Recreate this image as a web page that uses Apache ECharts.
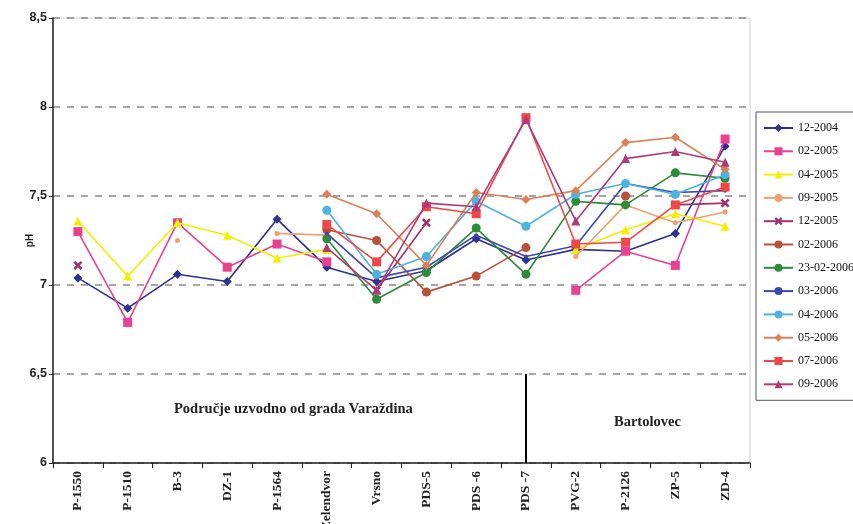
<!DOCTYPE html>
<html>
<head>
<meta charset="utf-8">
<script src="https://cdn.jsdelivr.net/npm/echarts@6/dist/echarts.min.js"></script>
<style>html,body{margin:0;padding:0;background:#fff}#c{width:853px;height:524px}</style>
</head>
<body>
<div id="c"></div>
<script>
var categories = ['P-1550','P-1510','B-3','DZ-1','P-1564','Zelendvor','Vrsno','PDS-5','PDS -6','PDS -7','PVG-2','P-2126','ZP-5','ZD-4'];
var yTicks = [6, 6.5, 7, 7.5, 8, 8.5];
var s1204  = [7.04, 6.87, 7.06, 7.02, 7.37, 7.10, 7.02, 7.08, 7.26, 7.14, 7.20, 7.19, 7.29, 7.78];
var s0205  = [7.30, 6.79, 7.35, 7.10, 7.23, 7.13, null, null, null, null, 6.97, 7.19, 7.11, 7.82];
var s0405  = [7.36, 7.05, 7.35, 7.28, 7.15, 7.20, null, null, null, null, 7.20, 7.31, 7.40, 7.33];
var s0905  = [null, null, 7.25, null, 7.29, 7.28, null, null, null, null, 7.16, 7.45, 7.35, 7.41];
var s1205  = [7.11, null, null, null, null, null, 6.97, 7.35, null, null, null, null, 7.45, 7.46];
var s0206  = [null, null, null, null, null, 7.31, 7.25, 6.96, 7.05, 7.21, null, 7.50, null, null];
var s230206= [null, null, null, null, null, 7.26, 6.92, 7.07, 7.32, 7.06, 7.47, 7.45, 7.63, 7.60];
var s0306  = [null, null, null, null, null, 7.29, 7.04, 7.10, 7.28, 7.16, 7.22, 7.57, 7.52, 7.53];
var s0406  = [null, null, null, null, null, 7.42, 7.06, 7.16, 7.47, 7.33, 7.51, 7.57, 7.51, 7.62];
var s0506  = [null, null, null, null, null, 7.51, 7.40, 7.11, 7.52, 7.48, 7.53, 7.80, 7.83, 7.65];
var s0706  = [null, null, null, null, null, 7.34, 7.13, 7.44, 7.40, 7.94, 7.23, 7.24, 7.45, 7.55];
var s0906  = [null, null, null, null, null, 7.21, 6.97, 7.46, 7.44, 7.93, 7.36, 7.71, 7.75, 7.69];
var seriesNames = ['12-2004','02-2005','04-2005','09-2005','12-2005','02-2006','23-02-2006','03-2006','04-2006','05-2006','07-2006','09-2006'];

var X = 'path://M2,0 L5,3 L8,0 L10,2 L7,5 L10,8 L8,10 L5,7 L2,10 L0,8 L3,5 L0,2 Z';
var defs = [
  [s1204,  '#2e3192', 'diamond', 9],
  [s0205,  '#e8418f', 'rect', 9],
  [s0405,  '#f2f000', 'triangle', 9],
  [s0905,  '#eea070', 'circle', 5],
  [s1205,  '#a0306e', X, 9],
  [s0206,  '#b9503c', 'circle', 9],
  [s230206,'#2e8b3a', 'circle', 9],
  [s0306,  '#3a48b0', 'circle', 4],
  [s0406,  '#4db3e0', 'circle', 9],
  [s0506,  '#d9825a', 'diamond', 9],
  [s0706,  '#f04848', 'rect', 9],
  [s0906,  '#b03a78', 'triangle', 9]
];
var series = defs.map(function(d, i){
  return {
    name: seriesNames[i], type: 'line', data: d[0], symbol: d[2], symbolSize: d[3],
    showAllSymbol: true, connectNulls: false,
    lineStyle: {color: d[1], width: 1.6}, itemStyle: {color: d[1]},
    emphasis: {disabled: true}, z: 3 + i
  };
});
series[0].markLine = {
  silent: true, symbol: 'none', label: {show: false},
  lineStyle: {color: '#000', width: 2, type: 'solid'},
  data: [[{coord: ['PDS -7', 6.5]}, {coord: ['PDS -7', 6]}]]
};

var chart = echarts.init(document.getElementById('c'));
chart.setOption({
  animation: false,
  backgroundColor: '#fff',
  grid: {left: 53, right: 103, top: 18, bottom: 61, show: true, borderColor: '#d0d0d0', borderWidth: 1,
         containLabel: false, outerBoundsMode: 'none'},
  legend: {
    orient: 'vertical', left: 756, top: 112, padding: [10, 6, 10, 7],
    itemWidth: 29, itemHeight: 10, itemGap: 11.3,
    borderColor: '#555', borderWidth: 1, backgroundColor: '#fff',
    textStyle: {fontFamily: 'Liberation Serif', fontSize: 12, color: '#111', lineHeight: 12},
    data: seriesNames
  },
  xAxis: {
    type: 'category', data: categories, boundaryGap: true,
    axisLine: {lineStyle: {color: '#222', width: 1.5}},
    axisTick: {show: true, interval: 0, length: 5, lineStyle: {color: '#222'}},
    axisLabel: {interval: 0, rotate: 90, fontFamily: 'Liberation Serif', fontWeight: 'bold', fontSize: 13.5, color: '#222', margin: 8, hideOverlap: false}
  },
  yAxis: {
    type: 'value', min: yTicks[0], max: yTicks[yTicks.length - 1], interval: 0.5,
    name: 'pH', nameLocation: 'middle', nameGap: 18, nameRotate: 90, nameMoveOverlap: false,
    nameTextStyle: {fontFamily: 'Liberation Sans', fontWeight: 'bold', fontSize: 10, color: '#222'},
    axisLine: {show: true, lineStyle: {color: '#222', width: 1.5}},
    axisTick: {show: true, length: 4, lineStyle: {color: '#222'}},
    axisLabel: {fontFamily: 'Liberation Sans', fontWeight: 'bold', fontSize: 12.5, color: '#222', margin: 6,
      formatter: function(v){ return String(v).replace('.', ','); }},
    splitLine: {show: true, lineStyle: {color: '#888', width: 1.5, type: [7, 7]}}
  },
  graphic: [
    {type: 'text', left: 174, top: 402, style: {text: 'Područje uzvodno od grada Varaždina', fontFamily: 'Liberation Serif', fontWeight: 'bold', fontSize: 14.5, fill: '#222'}},
    {type: 'text', left: 614, top: 415, style: {text: 'Bartolovec', fontFamily: 'Liberation Serif', fontWeight: 'bold', fontSize: 14.5, fill: '#222'}}
  ],
  series: series
});
</script>
</body>
</html>
